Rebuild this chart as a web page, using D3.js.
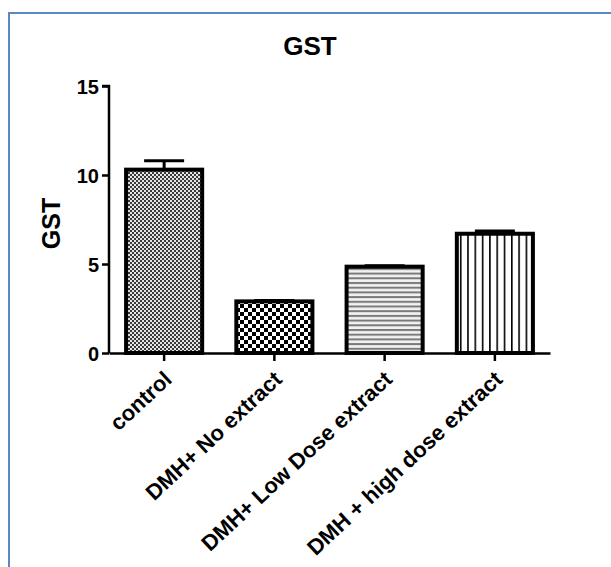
<!DOCTYPE html>
<html>
<head>
<meta charset="utf-8">
<script src="https://cdn.jsdelivr.net/npm/d3@7"></script>
<style>
  html, body { margin: 0; padding: 0; background: #fff; }
  svg { display: block; }
  text { font-family: "Liberation Sans", Arial, Helvetica, sans-serif; font-weight: bold; fill: #000; }
</style>
</head>
<body>
<svg id="chart" width="611" height="567"></svg>
<script>
const categories = ["control", "DMH+ No extract", "DMH+ Low Dose extract", "DMH + high dose extract"];
const means = [10.3, 2.9, 4.85, 6.7];
const errors = [0.5, 0.05, 0.05, 0.15];
const yTicks = [0, 5, 10, 15];
const patterns = ["pFine", "pChecker", "pHoriz", "pVert"];

const svg = d3.select("#chart");
const defs = svg.append("defs");

// fine gray checker
let p = defs.append("pattern").attr("id", "pFine").attr("patternUnits", "userSpaceOnUse").attr("width", 4).attr("height", 4);
p.append("rect").attr("width", 4).attr("height", 4).attr("fill", "#e6e6e6");
p.append("rect").attr("x", 0).attr("y", 0).attr("width", 2).attr("height", 2).attr("fill", "#3a3a3a");
p.append("rect").attr("x", 2).attr("y", 2).attr("width", 2).attr("height", 2).attr("fill", "#3a3a3a");
// coarse black/white checker
p = defs.append("pattern").attr("id", "pChecker").attr("patternUnits", "userSpaceOnUse").attr("width", 8).attr("height", 8);
p.append("rect").attr("width", 8).attr("height", 8).attr("fill", "#fff");
p.append("rect").attr("x", 0).attr("y", 0).attr("width", 4).attr("height", 4).attr("fill", "#000");
p.append("rect").attr("x", 4).attr("y", 4).attr("width", 4).attr("height", 4).attr("fill", "#000");
// horizontal lines
p = defs.append("pattern").attr("id", "pHoriz").attr("patternUnits", "userSpaceOnUse").attr("width", 4).attr("height", 4.7);
p.append("rect").attr("width", 4).attr("height", 4.7).attr("fill", "#f2f2f2");
p.append("rect").attr("x", 0).attr("y", 0).attr("width", 4).attr("height", 2).attr("fill", "#7a7a7a");
// vertical lines
p = defs.append("pattern").attr("id", "pVert").attr("patternUnits", "userSpaceOnUse").attr("width", 7.3).attr("height", 4);
p.append("rect").attr("width", 7.3).attr("height", 4).attr("fill", "#fff");
p.append("rect").attr("x", 0).attr("y", 0).attr("width", 1.6).attr("height", 4).attr("fill", "#000");

// frame
svg.append("path")
  .attr("d", "M9,567 L9,13 L611,13")
  .attr("fill", "none").attr("stroke", "#5b87c5").attr("stroke-width", 2);

const x0 = 109, x1 = 550, yTop = 86, yBot = 353;
const x = d3.scaleBand().domain(categories).range([x0, x1]).paddingInner(0.31).paddingOuter(0.155);
const y = d3.scaleLinear().domain([0, 15]).range([yBot, yTop]);

// title
svg.append("text").attr("x", 310).attr("y", 55).attr("text-anchor", "middle")
  .style("font-size", "26px").text("GST");

// y label
svg.append("text").attr("transform", `translate(60,${(yTop + yBot) / 2 + 4}) rotate(-90)`)
  .attr("text-anchor", "middle").style("font-size", "25px").text("GST");

// bars
const g = svg.append("g");
g.selectAll("rect.bar").data(categories).join("rect")
  .attr("class", "bar")
  .attr("x", d => x(d))
  .attr("y", (d, i) => y(means[i]))
  .attr("width", x.bandwidth())
  .attr("height", (d, i) => y(0) - y(means[i]))
  .attr("fill", (d, i) => `url(#${patterns[i]})`)
  .attr("stroke", "#000").attr("stroke-width", 4);

// error bars
const eb = g.selectAll("g.err").data(categories).join("g").attr("class", "err");
eb.append("line")
  .attr("x1", d => x(d) + x.bandwidth() / 2).attr("x2", d => x(d) + x.bandwidth() / 2)
  .attr("y1", (d, i) => y(means[i])).attr("y2", (d, i) => y(means[i] + errors[i]))
  .attr("stroke", "#000").attr("stroke-width", 3);
eb.append("line")
  .attr("x1", d => x(d) + x.bandwidth() / 2 - 20).attr("x2", d => x(d) + x.bandwidth() / 2 + 20)
  .attr("y1", (d, i) => y(means[i] + errors[i])).attr("y2", (d, i) => y(means[i] + errors[i]))
  .attr("stroke", "#000").attr("stroke-width", 3);

// y axis
const yAxis = svg.append("g").attr("transform", `translate(${x0},0)`)
  .call(d3.axisLeft(y).tickValues(yTicks).tickSize(7).tickPadding(3).tickFormat(d3.format("d")));
yAxis.select(".domain").attr("stroke", "#000").attr("stroke-width", 2.5).attr("d", `M-7,${yTop}H0V${yBot}`);
yAxis.selectAll(".tick line").attr("stroke", "#000").attr("stroke-width", 2.5);
yAxis.selectAll(".tick text").style("font-size", "20px").style("font-family", "'Liberation Sans', Arial, sans-serif").style("font-weight", "bold").attr("fill", "#000").attr("dy", "0.36em");

// x axis
const xAxis = svg.append("g").attr("transform", `translate(0,${yBot})`)
  .call(d3.axisBottom(x).tickSize(8).tickSizeOuter(0).tickFormat(""));
xAxis.select(".domain").attr("stroke", "#000").attr("stroke-width", 2.5);
xAxis.selectAll(".tick line").attr("stroke", "#000").attr("stroke-width", 2.5);

// x labels
svg.selectAll("text.xl").data(categories).join("text").attr("class", "xl")
  .attr("transform", d => `translate(${x(d) + x.bandwidth() / 2 + 9},${yBot + 28}) rotate(-43)`)
  .attr("text-anchor", "end")
  .style("font-size", "22px")
  .text(d => d);
</script>
</body>
</html>
